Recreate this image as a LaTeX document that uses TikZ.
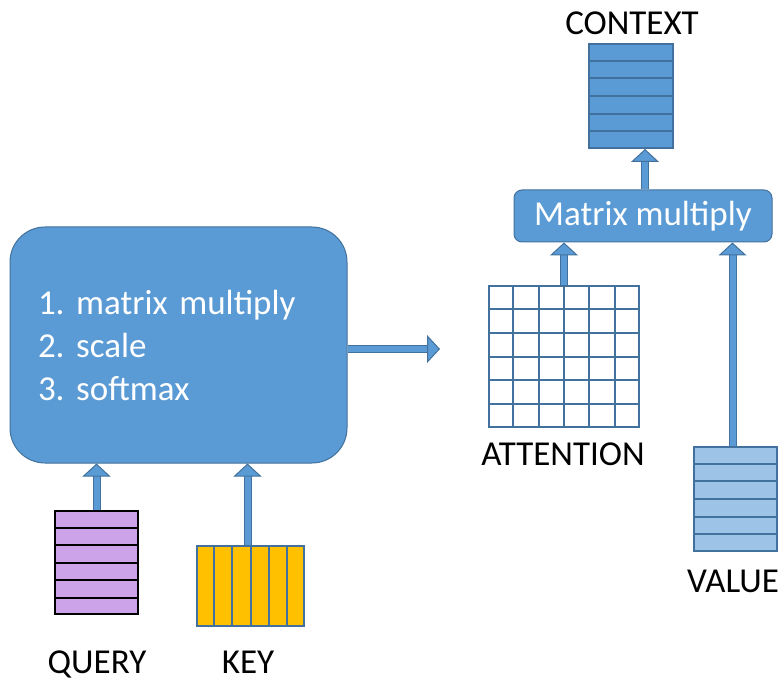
\documentclass[tikz,border=0pt]{standalone}
\usepackage{fontspec}
\setmainfont{Carlito}
\usepackage{tikz}
\usetikzlibrary{calc,arrows.meta}
\definecolor{boxblue}{HTML}{5B9BD5}
\definecolor{edgeblue}{HTML}{41719C}
\definecolor{querypurple}{HTML}{CCA3E8}
\definecolor{keyyellow}{HTML}{FFC000}
\definecolor{valueblue}{HTML}{9DC3E6}
\frenchspacing

\begin{document}
\begin{tikzpicture}[x=1pt,y=-1pt,
	every node/.style={font=\fontsize{35}{43}\selectfont},
	cell/.style={draw=edgeblue,line width=2pt,inner sep=0pt},
	opbox/.style={draw=edgeblue,line width=1pt,fill=boxblue,text=white},
	caption/.style={anchor=base,inner sep=1pt},
	blockarrow/.style={draw=edgeblue,line width=1pt,double=boxblue,double distance=6pt,
		-{Triangle[length=13pt,width=28pt,line width=1pt,fill=boxblue]}}]
	\useasboundingbox (0,0) rectangle (780,682);
	
	\node[opbox,rounded corners=35pt,minimum height=236pt,text width=281pt,inner xsep=28pt,align=left]
		(steps) at (178.5,345) {1. matrix multiply\\2. scale\\3. softmax};	%left box
	\node[opbox,rounded corners=8pt,minimum width=258pt,minimum height=52pt]
		(mult) at (643,216) {Matrix multiply};	%right box
	
	\node[cell,draw=black,fill=querypurple,minimum width=83pt,minimum height=103pt] (query) at (96.5,562.5) {};
	\node[cell,fill=keyyellow,minimum width=107pt,minimum height=80pt] (key) at (250.5,586) {};
	\node[cell,fill=white,minimum width=150pt,minimum height=141pt] (attention) at (564,356.5) {};
	\node[cell,fill=valueblue,minimum width=83pt,minimum height=104pt] (value) at (735.5,499) {};
	\node[cell,fill=boxblue,minimum width=84pt,minimum height=104pt] (context) at (631,96) {};
	
	\foreach \i in {1,...,5} {
		\draw[black,line width=2pt] ($(query.north west)!\i/6!(query.south west)$) -- ($(query.north east)!\i/6!(query.south east)$);	%rows
		\draw[edgeblue,line width=2pt] ($(key.north west)!\i/6!(key.north east)$) -- ($(key.south west)!\i/6!(key.south east)$);	%columns
		\draw[edgeblue,line width=2pt] ($(attention.north west)!\i/6!(attention.south west)$) -- ($(attention.north east)!\i/6!(attention.south east)$);
		\draw[edgeblue,line width=2pt] ($(attention.north west)!\i/6!(attention.north east)$) -- ($(attention.south west)!\i/6!(attention.south east)$);
		\draw[edgeblue,line width=2pt] ($(value.north west)!\i/6!(value.south west)$) -- ($(value.north east)!\i/6!(value.south east)$);
		\draw[edgeblue,line width=2pt] ($(context.north west)!\i/6!(context.south west)$) -- ($(context.north east)!\i/6!(context.south east)$);
	}
	
	\node[caption] (querytext) at (97,673) {QUERY};
	\node[caption] (keytext) at (248,673) {KEY};
	\node[caption] (attentiontext) at (563,465) {ATTENTION};
	\node[caption] (valuetext) at (733,592) {VALUE};
	\node[caption] (contexttext) at (632,35) {CONTEXT};
	
	\coordinate (attin) at (440,349);
	
	\draw[blockarrow] (query.north) -- (query.north |- steps.south);	%query--steps
	\draw[blockarrow] ([xshift=-3pt]key.north) -- ([xshift=-3pt]key.north |- steps.south);	%key--steps
	\draw[blockarrow] ([yshift=-4pt]steps.east) -- (attin);	%steps--attention
	\draw[blockarrow] (attention.north) -- (attention.north |- mult.south);	%attention--mult
	\draw[blockarrow] ([xshift=-3pt]value.north) -- ([xshift=-3pt]value.north |- mult.south);	%value--mult
	\draw[blockarrow] ([xshift=2pt]mult.north) -- ([xshift=2pt]mult.north |- context.south);	%mult--context
\end{tikzpicture}
\end{document}
